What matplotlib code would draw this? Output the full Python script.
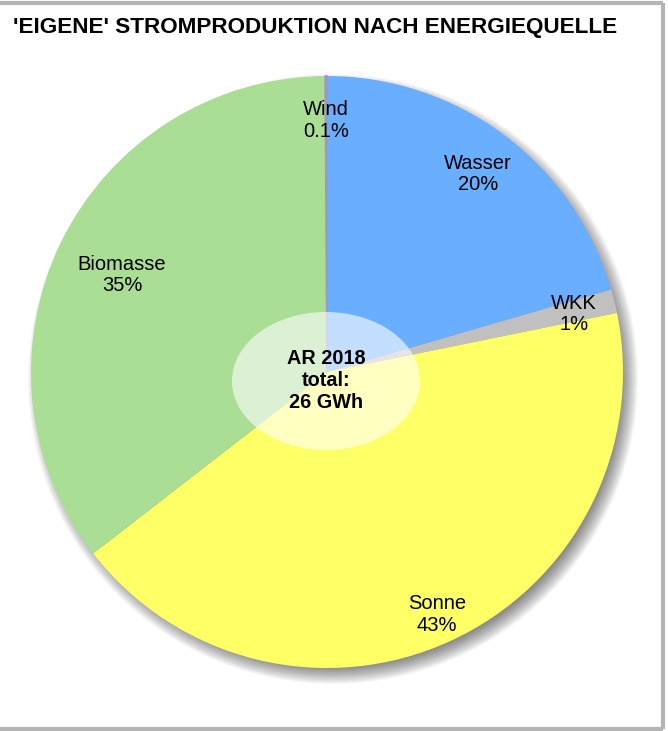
import numpy as np
import matplotlib.pyplot as plt
from matplotlib.patches import Circle, Ellipse

# data (clockwise from top)
sources = ["Wasser", "WKK", "Sonne", "Biomasse", "Wind"]
shares = [20.5, 1.3, 42.7, 35.4, 0.1]
pct_labels = ["20%", "1%", "43%", "35%", "0.1%"]
colors = ["#6aaeff", "#c0c0c0", "#ffff66", "#aade95", "#a09ab4"]
label_dist = [0.85, 0.86, 0.89, 0.77, 0.86]

title = "'EIGENE' STROMPRODUKTION NACH ENERGIEQUELLE"
center_text = "AR 2018\ntotal:\n26 GWh"

W, H = 668, 731
plt.rcParams['font.family'] = ['Liberation Sans', 'DejaVu Sans']

fig = plt.figure(figsize=(W / 100, H / 100), dpi=100)
ax = fig.add_axes([0, 0, 1, 1])

cx, cy, R = 327, H - 372, 296

# soft shadow under the pie
for i in range(20):
    ax.add_patch(Circle((cx + 6, cy - 7), R + 9 - i, color="black",
                        alpha=0.033, lw=0, zorder=0))

wedges, _ = ax.pie(shares, colors=colors, startangle=90, counterclock=False,
                   center=(cx, cy), radius=R, wedgeprops=dict(lw=0))
for w in wedges:
    w.set_zorder(2)
# the tiny wind slice gets an outline so it stays visible
wedges[-1].set_edgecolor(colors[-1])
wedges[-1].set_linewidth(1.2)

total = sum(shares)
start = 90.0
for name, val, pct, d in zip(sources, shares, pct_labels, label_dist):
    mid = start - val / total * 360 / 2
    start -= val / total * 360
    x = cx + d * R * np.cos(np.radians(mid))
    y = cy + d * R * np.sin(np.radians(mid)) - 3
    ax.text(x, y, name + "\n" + pct, ha="center", va="center", fontsize=14.5,
            linespacing=1.15, zorder=5)

ax.add_patch(Ellipse((326, H - 381), 188, 138, color="white", alpha=0.6,
                     lw=0, zorder=3))
ax.text(326, H - 381, center_text, ha="center", va="center", fontsize=14.3,
        fontweight="bold", linespacing=1.2, zorder=5)

ax.text(13, H - 28, title, ha="left", va="center", fontsize=16.2,
        fontweight="bold")

# frame
ax.plot([0, 663], [H - 3, H - 3], color="#b4b4b4", lw=3, solid_capstyle="butt")
ax.plot([663, 663], [H - 3, 2], color="#b4b4b4", lw=3, solid_capstyle="butt")
ax.plot([0, 663], [2, 2], color="#b4b4b4", lw=3, solid_capstyle="butt")

ax.set_xlim(0, W)
ax.set_ylim(0, H)
ax.set_aspect("auto")
ax.axis("off")

fig.savefig("out.png", dpi=100)
